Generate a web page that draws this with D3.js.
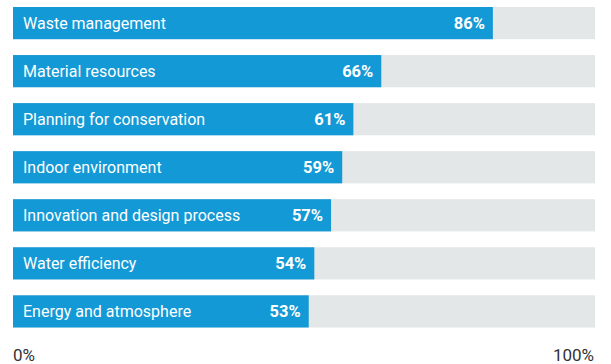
<!DOCTYPE html>
<html>
<head>
<meta charset="utf-8">
<script src="https://cdn.jsdelivr.net/npm/d3@7"></script>
<style>
  body { margin: 0; background: #fff; }
  svg { display: block; }
</style>
</head>
<body>
<script>
// chart data
var categories = ["Waste management", "Material resources", "Planning for conservation",
  "Indoor environment", "Innovation and design process", "Water efficiency", "Energy and atmosphere"];
var values = [86, 66, 61, 59, 57, 54, 53];
var axisLabels = ["0%", "100%"];

var width = 611, height = 364;
var svg = d3.select("body").append("svg")
  .attr("width", width)
  .attr("height", height);

var x = d3.scaleLinear().domain([0, 100]).range([13, 571]);
var y = d3.scaleBand().domain(categories).range([7, 327.5]).paddingInner(0.33).paddingOuter(0);

var rows = svg.selectAll("g.row")
  .data(categories)
  .enter().append("g")
  .attr("class", "row")
  .attr("transform", function (d) { return "translate(0," + y(d) + ")"; });

// grey track
rows.append("rect")
  .attr("x", x(0))
  .attr("width", 595 - x(0))
  .attr("height", y.bandwidth())
  .attr("fill", "#e3e7e8");

// value bar
rows.append("rect")
  .attr("x", x(0))
  .attr("width", function (d, i) { return x(values[i]) - x(0); })
  .attr("height", y.bandwidth())
  .attr("fill", "#1399d5");

rows.append("text")
  .attr("x", x(0) + 10)
  .attr("y", y.bandwidth() / 2)
  .attr("dy", "0.36em")
  .attr("fill", "#fff")
  .style("font-family", "Roboto, sans-serif")
  .style("font-size", "16px")
  .text(function (d) { return d; });

rows.append("text")
  .attr("x", function (d, i) { return x(values[i]) - 8; })
  .attr("y", y.bandwidth() / 2)
  .attr("dy", "0.36em")
  .attr("text-anchor", "end")
  .attr("fill", "#fff")
  .style("font-family", "Roboto, sans-serif")
  .style("font-size", "16.5px")
  .style("font-weight", "bold")
  .text(function (d, i) { return values[i] + "%"; });

// end labels
svg.append("text")
  .attr("x", x(0))
  .attr("y", 361)
  .attr("fill", "#333")
  .style("font-family", "Roboto, sans-serif")
  .style("font-size", "17px")
  .text(axisLabels[0]);

svg.append("text")
  .attr("x", 594)
  .attr("y", 361)
  .attr("text-anchor", "end")
  .attr("fill", "#333")
  .style("font-family", "Roboto, sans-serif")
  .style("font-size", "17px")
  .text(axisLabels[1]);
</script>
</body>
</html>
